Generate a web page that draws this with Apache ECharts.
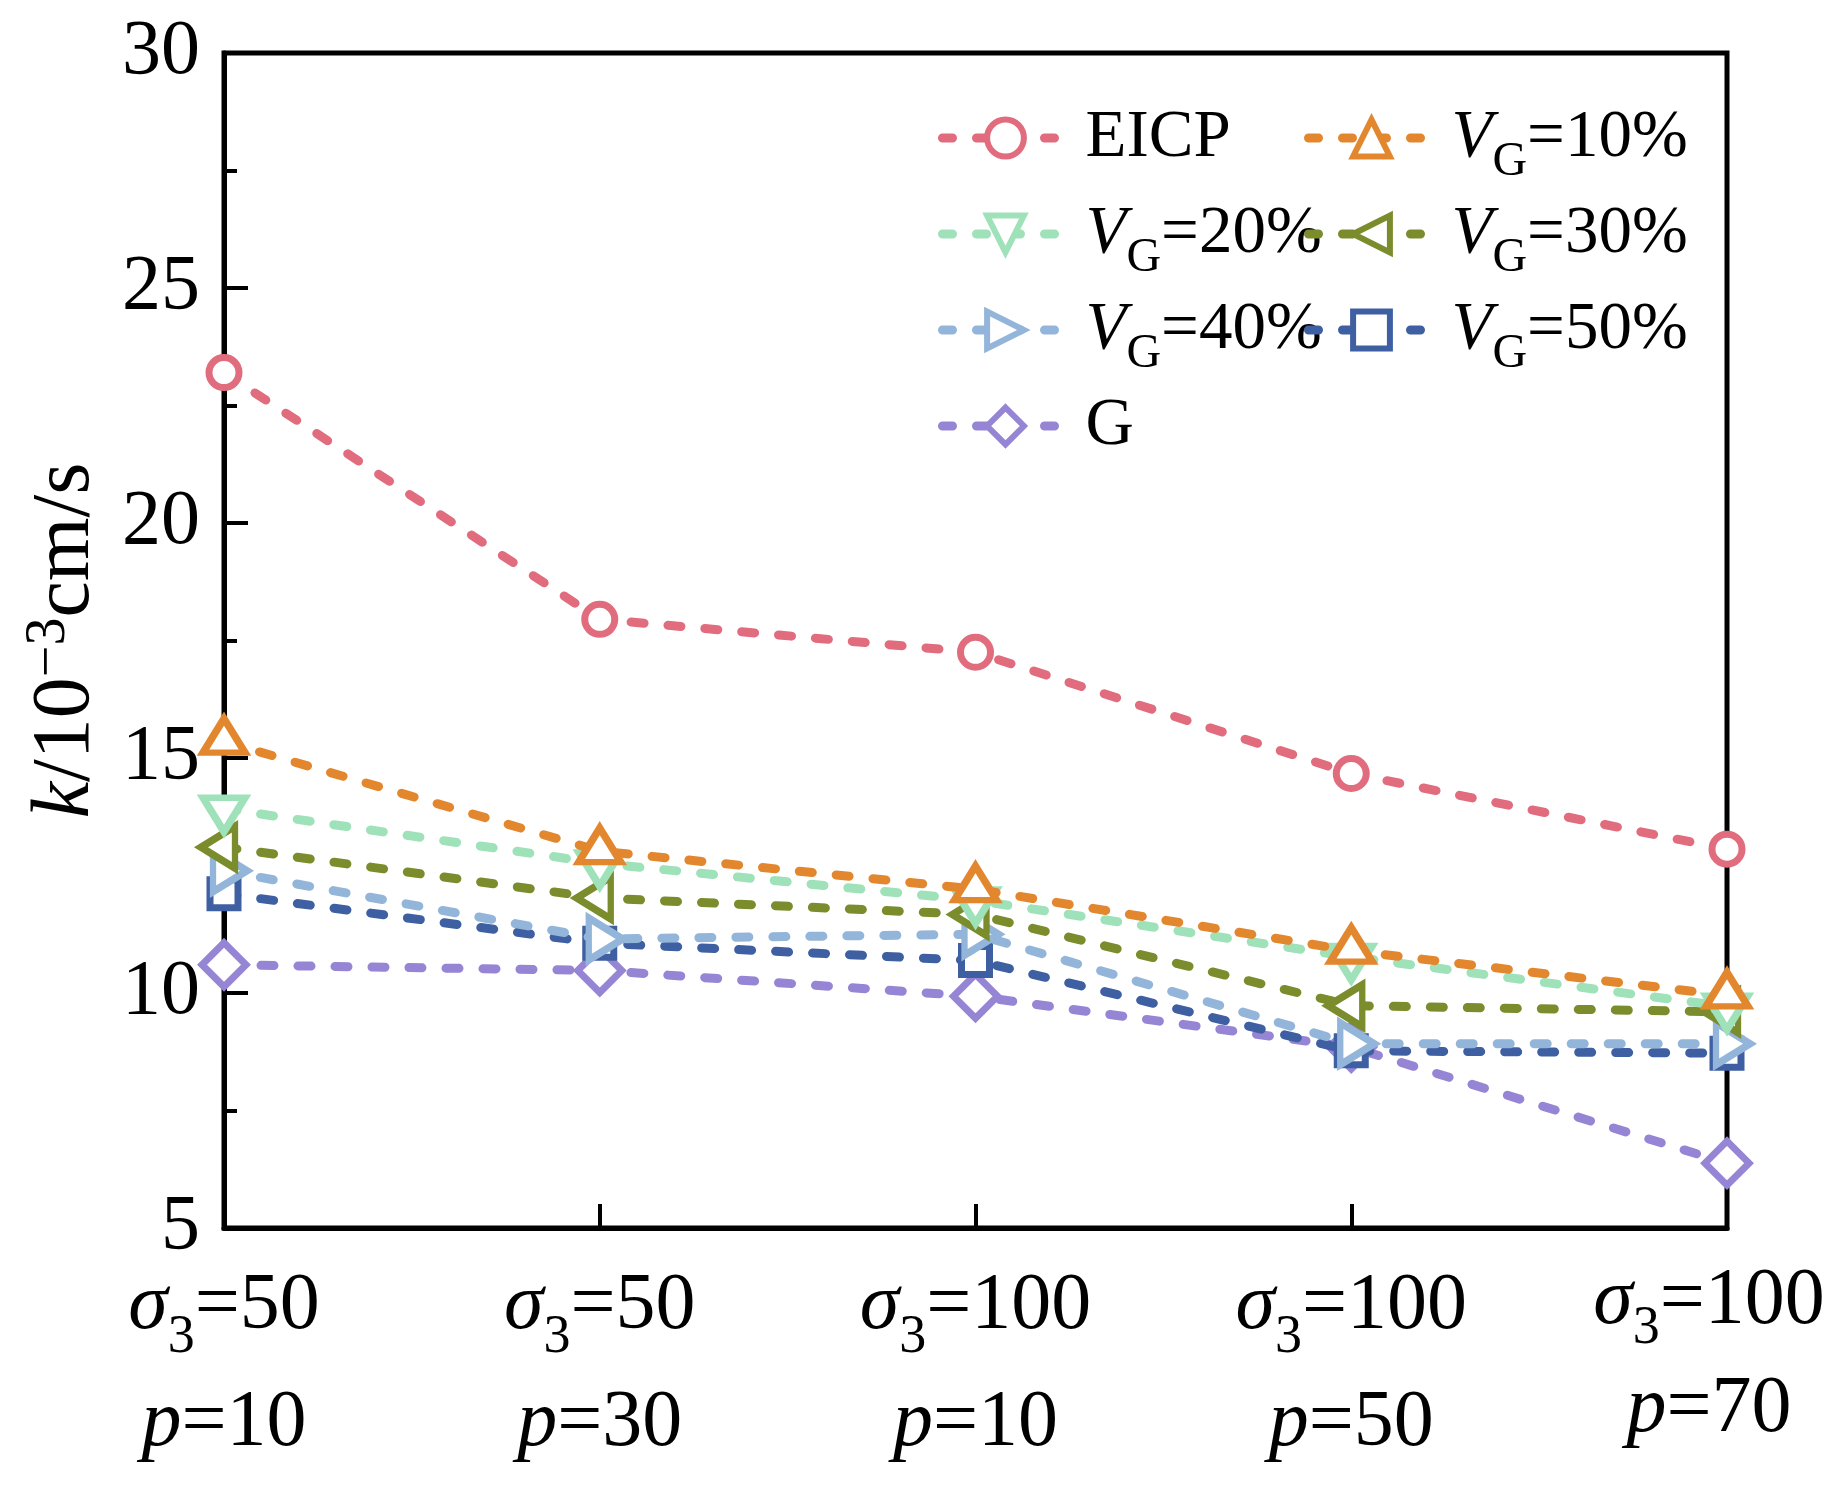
<!DOCTYPE html>
<html>
<head>
<meta charset="utf-8">
<script src="https://cdn.jsdelivr.net/npm/echarts@6/dist/echarts.min.js"></script>
<style>
  html, body { margin: 0; padding: 0; background: #fff; }
  #chart { width: 1841px; height: 1497px; }
</style>
</head>
<body>
<div id="chart"></div>
<script>
// categories: sigma3 and p for each test condition
var sigma3 = ['50', '50', '100', '100', '100'];
var pValues = ['10', '30', '10', '50', '70'];

// k (10^-3 cm/s)
var eicp = [23.2, 17.95, 17.25, 14.67, 13.06];
var vg10 = [15.35, 13.02, 12.21, 10.90, 9.95];
var vg20 = [13.92, 12.76, 11.97, 10.77, 9.71];
var vg30 = [13.10, 12.02, 11.67, 9.73, 9.60];
var vg40 = [12.60, 11.15, 11.25, 8.92, 8.92];
var vg50 = [12.11, 11.06, 10.69, 8.77, 8.72];
var gOnly = [10.60, 10.48, 9.93, 8.85, 6.38];

var yTicks = { min: 5, max: 30, interval: 5 };

var font = '"Liberation Serif", "Times New Roman", serif';

var categories = sigma3.map(function (s, i) {
  var last = i === sigma3.length - 1;
  var k = last ? 'L' : '';
  var item = { value: '{s' + k + '|σ}{sub' + k + '|3}{n' + k + '|=' + s + '}\n{s' + k + '|p}{n' + k + '|=' + pValues[i] + '}' };
  if (last) {
    item.textStyle = { padding: [0, 36, 0, 0] };
  }
  return item;
});

var dash = [13, 24];
var colors = {
  'EICP': '#E06C7E',
  'VG=10%': '#E3872F',
  'VG=20%': '#9FE2BA',
  'VG=30%': '#7A8C2C',
  'VG=40%': '#93B5DA',
  'VG=50%': '#3F5FA3',
  'G': '#9585D4'
};

function makeSeries(name, data, symbol, size, rotate, offset, z) {
  var color = colors[name];
  return {
    name: name,
    type: 'line',
    data: data,
    z: z,
    symbol: symbol,
    symbolSize: size,
    symbolRotate: rotate,
    symbolOffset: offset,
    lineStyle: { color: color, width: 9, type: dash, cap: 'round' },
    itemStyle: { color: '#fff', borderColor: color, borderWidth: 7 },
    emphasis: { disabled: true },
    animation: false
  };
}

var series = [
  makeSeries('EICP', eicp, 'circle', 30, 0, [0, 0], 9),
  makeSeries('VG=10%', vg10, 'triangle', [42, 34], 0, [0, -6], 8),
  makeSeries('VG=20%', vg20, 'triangle', [42, 34], 180, [0, 6], 7),
  makeSeries('VG=30%', vg30, 'triangle', [42, 34], 90, [-6, 0], 6),
  makeSeries('VG=40%', vg40, 'triangle', [42, 34], -90, [6, 0], 5),
  makeSeries('VG=50%', vg50, 'rect', 28, 0, [0, 0], 4),
  makeSeries('G', gOnly, 'diamond', 44, 0, [0, 0], 3)
];

var legendText = {
  fontFamily: font,
  fontSize: 67,
  lineHeight: 96,
  color: '#000',
  padding: [0, 0, 0, 12],
  rich: {
    v: { fontFamily: font, fontSize: 67, lineHeight: 96, fontStyle: 'italic', color: '#000' },
    sub: { fontFamily: font, fontSize: 48, lineHeight: 46, verticalAlign: 'bottom', color: '#000' },
    n: { fontFamily: font, fontSize: 67, lineHeight: 96, color: '#000' }
  }
};

function legendFormatter(name) {
  if (name.indexOf('VG') === 0) {
    return '{v|V}{sub|G}{n|' + name.slice(2) + '}';
  }
  return '{n|' + name + '}';
}

function legendBlock(names, left) {
  return {
    data: names.map(function (n) {
      return {
        name: n,
        lineStyle: { color: colors[n], width: 9, type: [10, 24], cap: 'round' },
        itemStyle: { color: '#fff', borderColor: colors[n], borderWidth: 6 }
      };
    }),
    orient: 'vertical',
    left: left,
    top: 85,
    itemWidth: 126,
    itemHeight: 46,
    itemGap: 0,
    selectedMode: false,
    formatter: legendFormatter,
    textStyle: legendText
  };
}

var labelRich = {};
[['', 117, 52], ['L', 108, 48]].forEach(function (r) {
  labelRich['s' + r[0]] = { fontFamily: font, fontSize: 80, lineHeight: r[1], fontStyle: 'italic', color: '#000' };
  labelRich['sub' + r[0]] = { fontFamily: font, fontSize: 54, lineHeight: r[2], verticalAlign: 'bottom', color: '#000' };
  labelRich['n' + r[0]] = { fontFamily: font, fontSize: 80, lineHeight: r[1], color: '#000' };
});

var option = {
  backgroundColor: '#fff',
  animation: false,
  grid: {
    left: 224,
    right: 114,
    top: 53,
    bottom: 269,
    outerBoundsMode: 'none',
    containLabel: false,
    show: true,
    borderColor: '#000',
    borderWidth: 5,
    backgroundColor: 'transparent'
  },
  legend: [
    legendBlock(['EICP', 'VG=20%', 'VG=40%', 'G'], 933),
    legendBlock(['VG=10%', 'VG=30%', 'VG=50%'], 1299)
  ],
  xAxis: {
    type: 'category',
    data: categories,
    boundaryGap: false,
    axisLine: { lineStyle: { color: '#000', width: 5 } },
    axisTick: { inside: true, length: 24, lineStyle: { color: '#000', width: 4 } },
    splitLine: { show: false },
    axisLabel: {
      interval: 0,
      margin: 20,
      color: '#000',
      fontFamily: font,
      fontSize: 80,
      lineHeight: 117,
      rich: labelRich
    }
  },
  yAxis: {
    type: 'value',
    min: yTicks.min,
    max: yTicks.max,
    interval: yTicks.interval,
    name: '{i|k}/10{sup|−3}cm/s',
    nameLocation: 'middle',
    nameGap: 105,
    nameTextStyle: {
      fontFamily: font,
      fontSize: 82,
      lineHeight: 90,
      color: '#000',
      rich: {
        i: { fontFamily: font, fontSize: 82, lineHeight: 90, fontStyle: 'italic', color: '#000' },
        sup: { fontFamily: font, fontSize: 56, lineHeight: 40, verticalAlign: 'top', color: '#000' }
      }
    },
    axisLine: { show: true, lineStyle: { color: '#000', width: 5 } },
    axisTick: { show: true, inside: true, length: 24, lineStyle: { color: '#000', width: 4 } },
    minorTick: { show: true, splitNumber: 2, length: 13, lineStyle: { color: '#000', width: 4 } },
    splitLine: { show: false },
    minorSplitLine: { show: false },
    axisLabel: {
      margin: 24,
      color: '#000',
      fontFamily: font,
      fontSize: 78
    }
  },
  series: series
};

var myChart = echarts.init(document.getElementById('chart'));
myChart.setOption(option);
</script>
</body>
</html>
